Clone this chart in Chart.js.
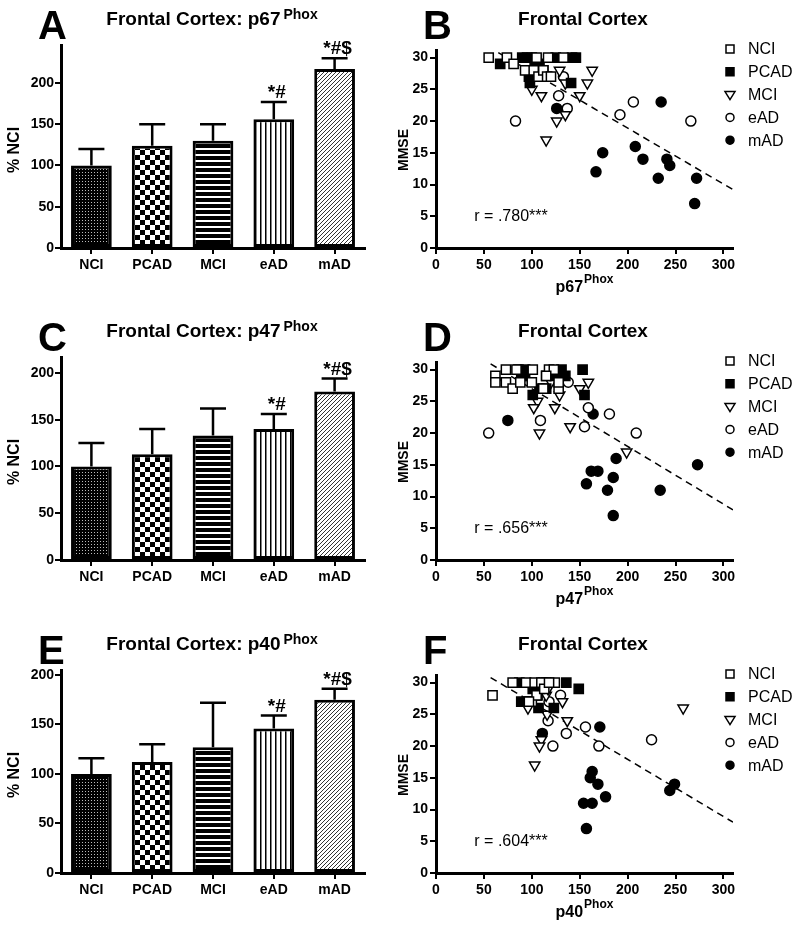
<!DOCTYPE html>
<html>
<head>
<meta charset="utf-8">
<title>Frontal Cortex: Phox</title>
<script src="https://cdn.jsdelivr.net/npm/chart.js@4.4.1/dist/chart.umd.min.js"></script>
<style>
  body { margin: 0; background: #fff; }
  #fig { position: relative; width: 800px; height: 933px; overflow: hidden; }
  #fig canvas { position: absolute; }
</style>
</head>
<body>
<div id="fig">
  <canvas id="pA" width="390" height="308" style="left:0;top:0"></canvas>
  <canvas id="pB" width="410" height="308" style="left:390px;top:0"></canvas>
  <canvas id="pC" width="390" height="308" style="left:0;top:312px"></canvas>
  <canvas id="pD" width="410" height="308" style="left:390px;top:312px"></canvas>
  <canvas id="pE" width="390" height="308" style="left:0;top:625px"></canvas>
  <canvas id="pF" width="410" height="308" style="left:390px;top:625px"></canvas>
</div>
<script>
'use strict';

var FONT = "'Liberation Sans', Arial, sans-serif";

// bar panels (% NCI, mean and SEM)
var groups = ['NCI', 'PCAD', 'MCI', 'eAD', 'mAD'];
var stars = ['', '', '', '*#', '*#$'];
var p67_mean = [100, 124, 130, 156, 217];
var p67_sem = [20, 26, 20, 21, 13];
var p47_mean = [100, 113, 133, 140, 180];
var p47_sem = [25, 27, 29, 16, 14];
var p40_mean = [100, 112, 127, 146, 175];
var p40_sem = [16, 18, 45, 13, 11];

// scatter panels: [protein level, MMSE]
var p67_nci = [[55,30],[74,30],[81,29],[93,28],[102,28],[105,30],[107,27],[112,28],[116,27],[117,30],[133,30],[120,27]];
var p67_pcad = [[67,29],[90,30],[95,30],[100,30],[103,29],[108,29],[97,27],[98,26],[100,28],[112,28],[142,30],[146,30],[141,26],[125,30]];
var p67_mci = [[129,28],[163,28],[158,26],[150,24],[135,26],[100,25],[110,24],[126,20],[135,21],[115,17]];
var p67_ead = [[133,27],[128,24],[137,22],[83,20],[192,21],[206,23],[266,20]];
var p67_mad = [[126,22],[235,23],[174,15],[167,12],[208,16],[216,14],[241,14],[244,13],[232,11],[272,11],[270,7]];
var p67_fit = [[65,30.8],[310,9.2]];

var p47_nci = [[62,29],[62,28],[73,30],[73,28],[80,27],[84,30],[88,28],[101,30],[100,28],[112,27],[118,30],[123,30],[115,29],[128,27],[128,28]];
var p47_pcad = [[86,30],[89,29],[93,29],[93,30],[101,26],[108,27],[115,27],[115,29],[124,29],[131,30],[135,29],[153,30],[155,26]];
var p47_mci = [[159,28],[150,27],[129,26],[106,25],[102,24],[124,24],[140,21],[108,20],[199,17],[120,28]];
var p47_ead = [[55,20],[109,22],[138,28],[159,24],[155,21],[181,23],[209,20]];
var p47_mad = [[75,22],[164,23],[188,16],[162,14],[169,14],[157,12],[185,13],[179,11],[185,7],[234,11],[273,15]];
var p47_fit = [[57,30.9],[310,7.9]];

var p40_nci = [[59,28],[80,30],[94,30],[103,30],[110,30],[124,30],[100,27],[105,28],[113,29],[118,30],[97,27]];
var p40_pcad = [[87,30],[89,27],[98,27],[101,29],[107,26],[108,29],[112,30],[115,30],[123,26],[136,30],[149,29],[106,28]];
var p40_mci = [[96,26],[115,28],[132,27],[137,24],[116,25],[110,21],[108,20],[103,17],[258,26],[117,29]];
var p40_ead = [[130,28],[118,27],[117,24],[136,22],[122,20],[156,23],[170,20],[225,21]];
var p40_mad = [[111,22],[171,23],[163,16],[161,15],[169,14],[177,12],[154,11],[163,11],[157,7],[249,14],[244,13]];
var p40_fit = [[57,30.8],[310,8.0]];

function pattern(ctx, kind) {
  var c = document.createElement('canvas');
  var g = c.getContext('2d');
  if (kind === 'dots') {
    c.width = 3; c.height = 3;
    g.fillStyle = '#000'; g.fillRect(0, 0, 3, 3);
    g.fillStyle = '#bbb'; g.fillRect(1, 1, 1, 1);
  } else if (kind === 'checks') {
    c.width = 10; c.height = 10;
    g.fillStyle = '#fff'; g.fillRect(0, 0, 10, 10);
    g.fillStyle = '#000'; g.fillRect(0, 0, 5, 5); g.fillRect(5, 5, 5, 5);
  } else if (kind === 'hlines') {
    c.width = 6; c.height = 6;
    g.fillStyle = '#000'; g.fillRect(0, 0, 6, 4);
    g.fillStyle = '#fff'; g.fillRect(0, 4, 6, 2);
  } else if (kind === 'vlines') {
    c.width = 5; c.height = 5;
    g.fillStyle = '#fff'; g.fillRect(0, 0, 5, 5);
    g.fillStyle = '#000'; g.fillRect(0, 0, 1.5, 5);
  } else {
    c.width = 4; c.height = 4;
    g.fillStyle = '#fff'; g.fillRect(0, 0, 4, 4);
    g.strokeStyle = '#333'; g.lineWidth = 1;
    g.beginPath();
    g.moveTo(0, 4); g.lineTo(4, 0);
    g.moveTo(-1, 1); g.lineTo(1, -1);
    g.moveTo(3, 5); g.lineTo(5, 3);
    g.stroke();
  }
  return ctx.createPattern(c, 'repeat');
}

function axisX(height, extra) {
  return Object.assign({
    grid: { display: true, offset: false, drawOnChartArea: false, drawTicks: true, tickLength: 6, color: '#000', lineWidth: 2 },
    border: { display: true, color: '#000', width: 3 },
    ticks: { color: '#000', font: { family: FONT, size: 14, weight: 'bold' }, padding: 3 },
    afterFit: function (s) { s.height = height; }
  }, extra);
}

function axisY(width, extra) {
  return Object.assign({
    grid: { display: true, drawOnChartArea: false, drawTicks: true, tickLength: 6, color: '#000', lineWidth: 2 },
    border: { display: true, color: '#000', width: 3 },
    ticks: { color: '#000', font: { family: FONT, size: 14, weight: 'bold' }, padding: 2 },
    afterFit: function (s) { s.width = width; }
  }, extra);
}

// panel letter, title with superscript, axis titles
function panelText(t) {
  return {
    id: 'panelText',
    afterDraw: function (chart) {
      var ctx = chart.ctx;
      ctx.save();
      ctx.fillStyle = '#000';
      ctx.textBaseline = 'alphabetic';
      ctx.textAlign = 'left';
      ctx.font = 'bold 40px ' + FONT;
      ctx.fillText(t.letter, t.letterX, 39);

      ctx.font = 'bold 19px ' + FONT;
      var w1 = ctx.measureText(t.title).width;
      var w2 = 0;
      if (t.sup) { ctx.font = 'bold 14px ' + FONT; w2 = ctx.measureText(t.sup).width + 3; }
      var x0 = t.titleX - (w1 + w2) / 2;
      ctx.font = 'bold 19px ' + FONT;
      ctx.fillText(t.title, x0, 25);
      if (t.sup) { ctx.font = 'bold 14px ' + FONT; ctx.fillText(t.sup, x0 + w1 + 3, 19); }

      if (t.xTitle) {
        ctx.font = 'bold 16px ' + FONT;
        var a = ctx.measureText(t.xTitle).width;
        ctx.font = 'bold 12px ' + FONT;
        var b = ctx.measureText('Phox').width;
        var xs = t.xTitleX - (a + b) / 2;
        ctx.font = 'bold 16px ' + FONT;
        ctx.fillText(t.xTitle, xs, 292);
        ctx.font = 'bold 12px ' + FONT;
        ctx.fillText('Phox', xs + a + 1, 283);
      }

      ctx.save();
      ctx.translate(t.yTitleX, 150);
      ctx.rotate(-Math.PI / 2);
      ctx.textAlign = 'center';
      ctx.textBaseline = 'middle';
      ctx.font = 'bold ' + t.yTitleSize + 'px ' + FONT;
      ctx.fillText(t.yTitle, 0, 0);
      ctx.restore();

      if (t.note) {
        ctx.font = '16px ' + FONT;
        ctx.textBaseline = 'middle';
        ctx.fillText(t.note, chart.scales.x.getPixelForValue(40), chart.scales.y.getPixelForValue(5));
      }
      ctx.restore();
    }
  };
}

function errorBars(mean, sem) {
  return {
    id: 'errorBars',
    afterDatasetsDraw: function (chart) {
      var ctx = chart.ctx, y = chart.scales.y;
      var bars = chart.getDatasetMeta(0).data;
      ctx.save();
      ctx.strokeStyle = '#000';
      ctx.lineWidth = 2.5;
      ctx.fillStyle = '#000';
      bars.forEach(function (bar, i) {
        var base = y.getPixelForValue(mean[i]);
        var top = y.getPixelForValue(mean[i] + sem[i]);
        ctx.beginPath();
        ctx.moveTo(bar.x, base); ctx.lineTo(bar.x, top);
        ctx.moveTo(bar.x - 13, top); ctx.lineTo(bar.x + 13, top);
        ctx.stroke();
        if (stars[i]) {
          ctx.font = 'bold 19px ' + FONT;
          ctx.textAlign = 'center';
          ctx.fillText(stars[i], bar.x + 3, top - 4);
        }
      });
      ctx.restore();
    }
  };
}

function barChart(id, mean, sem, ymax, letter, protein) {
  var ctx = document.getElementById(id).getContext('2d');
  var fills = ['dots', 'checks', 'hlines', 'vlines', 'diag'].map(function (k) { return pattern(ctx, k); });
  return new Chart(ctx, {
    type: 'bar',
    data: {
      labels: groups,
      datasets: [{
        data: mean,
        backgroundColor: fills,
        borderColor: '#000',
        borderWidth: 3,
        borderSkipped: false,
        categoryPercentage: 1,
        barPercentage: 0.67
      }]
    },
    options: {
      responsive: false,
      animation: false,
      devicePixelRatio: 1,
      layout: { padding: { top: 45, right: 25, left: 0, bottom: 0 } },
      plugins: { legend: { display: false }, tooltip: { enabled: false } },
      scales: {
        x: axisX(60, {}),
        y: axisY(61, { min: 0, max: ymax, ticks: { stepSize: 50, includeBounds: false, color: '#000', font: { family: FONT, size: 14, weight: 'bold' }, padding: 1 } })
      }
    },
    plugins: [errorBars(mean, sem), panelText({
      letter: letter, letterX: 38, title: 'Frontal Cortex: ' + protein, sup: 'Phox', titleX: 212,
      yTitle: '% NCI', yTitleX: 15, yTitleSize: 16
    })]
  });
}

function pts(list) {
  return list.map(function (p) { return { x: p[0], y: p[1] }; });
}

var legendItems = [
  { label: 'NCI', shape: 'rect', fill: '#fff' },
  { label: 'PCAD', shape: 'rect', fill: '#000' },
  { label: 'MCI', shape: 'tri', fill: '#fff' },
  { label: 'eAD', shape: 'circle', fill: '#fff' },
  { label: 'mAD', shape: 'circle', fill: '#000' }
];

var sideLegend = {
  id: 'sideLegend',
  afterDraw: function (chart) {
    var ctx = chart.ctx;
    ctx.save();
    ctx.strokeStyle = '#000';
    ctx.lineWidth = 1.5;
    legendItems.forEach(function (it, i) {
      var x = 340, y = 49 + i * 22.8;
      ctx.beginPath();
      if (it.shape === 'rect') ctx.rect(x - 4, y - 4, 8, 8);
      else if (it.shape === 'tri') { ctx.moveTo(x - 5, y - 3); ctx.lineTo(x + 5, y - 3); ctx.lineTo(x, y + 5); ctx.closePath(); }
      else ctx.arc(x, y, 4, 0, Math.PI * 2);
      ctx.fillStyle = it.fill;
      ctx.fill();
      ctx.stroke();
      ctx.fillStyle = '#000';
      ctx.font = '16px ' + FONT;
      ctx.textBaseline = 'middle';
      ctx.fillText(it.label, 358, y + 1);
    });
    ctx.restore();
  }
};

function scatterChart(id, sets, fit, letter, protein, r) {
  var ctx = document.getElementById(id).getContext('2d');
  var base = { borderColor: '#000', borderWidth: 1.5 };
  return new Chart(ctx, {
    type: 'scatter',
    data: {
      datasets: [
        Object.assign({ label: 'NCI', data: pts(sets[0]), pointStyle: 'rect', pointRadius: 6.5, backgroundColor: '#fff' }, base),
        Object.assign({ label: 'PCAD', data: pts(sets[1]), pointStyle: 'rect', pointRadius: 6.5, backgroundColor: '#000' }, base),
        Object.assign({ label: 'MCI', data: pts(sets[2]), pointStyle: 'triangle', pointRotation: 180, pointRadius: 6, backgroundColor: '#fff' }, base),
        Object.assign({ label: 'eAD', data: pts(sets[3]), pointStyle: 'circle', pointRadius: 5, backgroundColor: '#fff' }, base),
        Object.assign({ label: 'mAD', data: pts(sets[4]), pointStyle: 'circle', pointRadius: 5, backgroundColor: '#000' }, base),
        { label: 'fit', data: pts(fit), showLine: true, pointRadius: 0, borderColor: '#000', borderWidth: 1.5, borderDash: [7, 5], fill: false }
      ]
    },
    options: {
      responsive: false,
      animation: false,
      devicePixelRatio: 1,
      layout: { padding: { top: 50, right: 67, left: 0, bottom: 0 } },
      plugins: { legend: { display: false }, tooltip: { enabled: false } },
      scales: {
        x: axisX(60, { type: 'linear', min: 0, max: 310, ticks: { stepSize: 50, includeBounds: false, color: '#000', font: { family: FONT, size: 14, weight: 'bold' }, padding: 3 } }),
        y: axisY(46, { min: 0, max: 31.2, ticks: { stepSize: 5, includeBounds: false, color: '#000', font: { family: FONT, size: 14, weight: 'bold' }, padding: 2 } })
      }
    },
    plugins: [sideLegend, panelText({
      letter: letter, letterX: 33, title: 'Frontal Cortex', sup: '', titleX: 193,
      xTitle: protein, xTitleX: 194, yTitle: 'MMSE', yTitleX: 14, yTitleSize: 14, note: r
    })]
  });
}

barChart('pA', p67_mean, p67_sem, 246, 'A', 'p67');
barChart('pC', p47_mean, p47_sem, 217, 'C', 'p47');
barChart('pE', p40_mean, p40_sem, 205, 'E', 'p40');
scatterChart('pB', [p67_nci, p67_pcad, p67_mci, p67_ead, p67_mad], p67_fit, 'B', 'p67', 'r = .780***');
scatterChart('pD', [p47_nci, p47_pcad, p47_mci, p47_ead, p47_mad], p47_fit, 'D', 'p47', 'r = .656***');
scatterChart('pF', [p40_nci, p40_pcad, p40_mci, p40_ead, p40_mad], p40_fit, 'F', 'p40', 'r = .604***');
</script>
</body>
</html>
